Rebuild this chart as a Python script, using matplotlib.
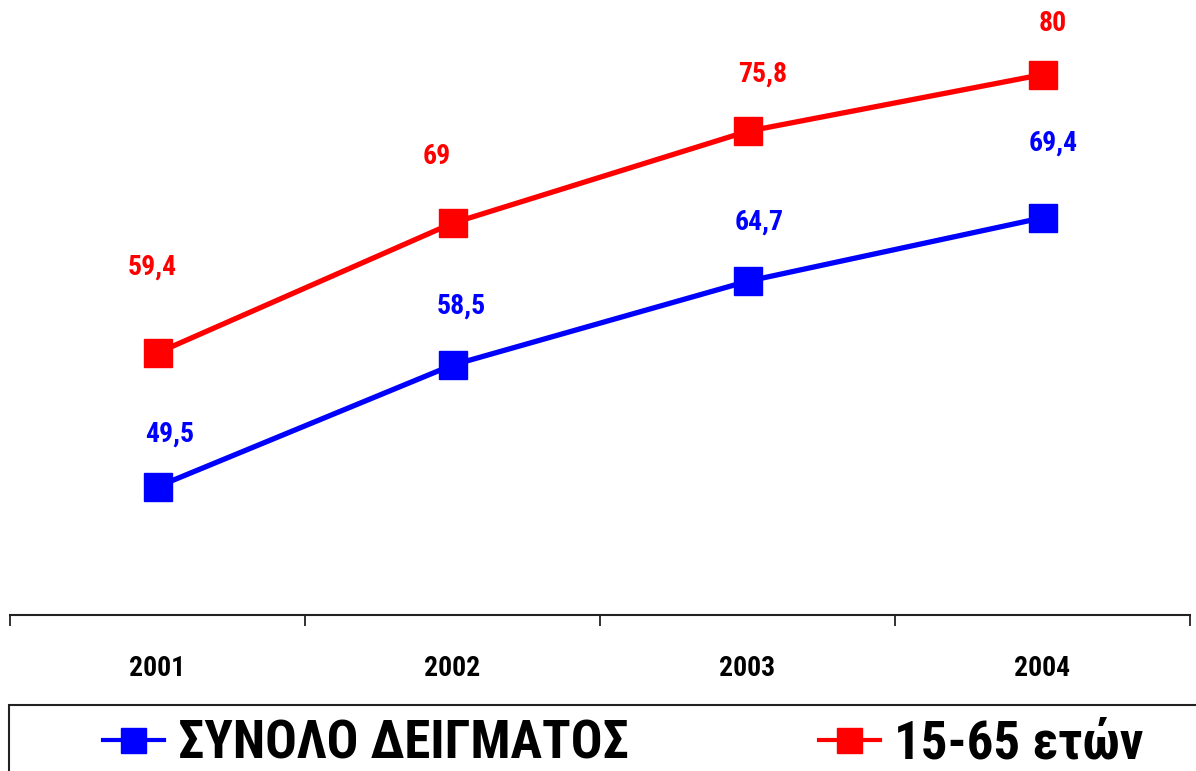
import matplotlib
matplotlib.use("Agg")
import matplotlib.pyplot as plt
from matplotlib.lines import Line2D
from matplotlib.patches import Rectangle

plt.rcParams['font.family'] = ['Roboto Condensed', 'DejaVu Sans']
plt.rcParams['font.weight'] = 'bold'

# data
years = ['2001', '2002', '2003', '2004']
total = [49.5, 58.5, 64.7, 69.4]
age_15_65 = [59.4, 69, 75.8, 80]
total_name = 'ΣΥΝΟΛΟ ΔΕΙΓΜΑΤΟΣ'
age_name = '15-65 ετών'

# label offsets (pixels, from the marker)
total_dx = [12, 9, 12, 11]
total_dy = [53, 59, 59, 75]
age_dx = [-5, -16, 15, 10]
age_dy = [86, 67, 57, 51]

W, H = 1196, 771
fig = plt.figure(figsize=(W / 100, H / 100), dpi=100)
ax = fig.add_axes([10 / W, (H - 615) / H, 1180 / W, 608 / H])

x = list(range(len(years)))
ax.plot(x, total, color='#0000ff', lw=3.8, marker='s', ms=19.5, mec='#0000ff', mfc='#0000ff', zorder=3)
ax.plot(x, age_15_65, color='#ff0000', lw=3.8, marker='s', ms=19.5, mec='#ff0000', mfc='#ff0000', zorder=3)

def fmt(v):
    s = ('%.1f' % v).rstrip('0').rstrip('.')
    return s.replace('.', ',')

for i in x:
    ax.annotate(fmt(total[i]), (i, total[i]), xytext=(total_dx[i] * 0.72, total_dy[i] * 0.72),
                textcoords='offset points', ha='center', va='center',
                color='#0000ff', fontsize=20, fontweight='bold')
    ax.annotate(fmt(age_15_65[i]), (i, age_15_65[i]), xytext=(age_dx[i] * 0.72, age_dy[i] * 0.72),
                textcoords='offset points', ha='center', va='center',
                color='#ff0000', fontsize=20, fontweight='bold')

ax.set_xlim(-0.5, len(years) - 0.5)
ax.set_ylim(40, 85)
for s in ['left', 'top', 'right']:
    ax.spines[s].set_visible(False)
ax.spines['bottom'].set_linewidth(1.5)
ax.spines['bottom'].set_color('#222222')
ax.set_yticks([])
ax.set_xticks([i - 0.5 for i in range(len(years) + 1)])
ax.set_xticklabels([])
ax.tick_params(axis='x', which='major', direction='out', length=8, width=1.3, color='#222222')
ax.set_xticks(x, minor=True)
ax.set_xticklabels(years, minor=True)
ax.tick_params(axis='x', which='minor', length=0, pad=29, labelsize=20)

# legend box
fig.patches.append(Rectangle((9 / W, -0.05), 1.2, (H - 705) / H + 0.05, transform=fig.transFigure,
                             fill=False, edgecolor='#222222', lw=1.5))

h1 = Line2D([], [], color='#0000ff', lw=3, marker='s', ms=18)
h2 = Line2D([], [], color='#ff0000', lw=3, marker='s', ms=18)
fig.legend([h1], [total_name], loc='center left', bbox_to_anchor=(103 / W, (H - 744) / H),
           frameon=False, handlelength=1.15, handletextpad=0.27,
           borderpad=0, borderaxespad=0, prop={'weight': 'bold', 'size': 38})
fig.legend([h2], [age_name], loc='center left', bbox_to_anchor=(819 / W, (H - 744) / H),
           frameon=False, handlelength=1.15, handletextpad=0.27,
           borderpad=0, borderaxespad=0, prop={'weight': 'bold', 'size': 38})

fig.savefig('out.png', dpi=100)
